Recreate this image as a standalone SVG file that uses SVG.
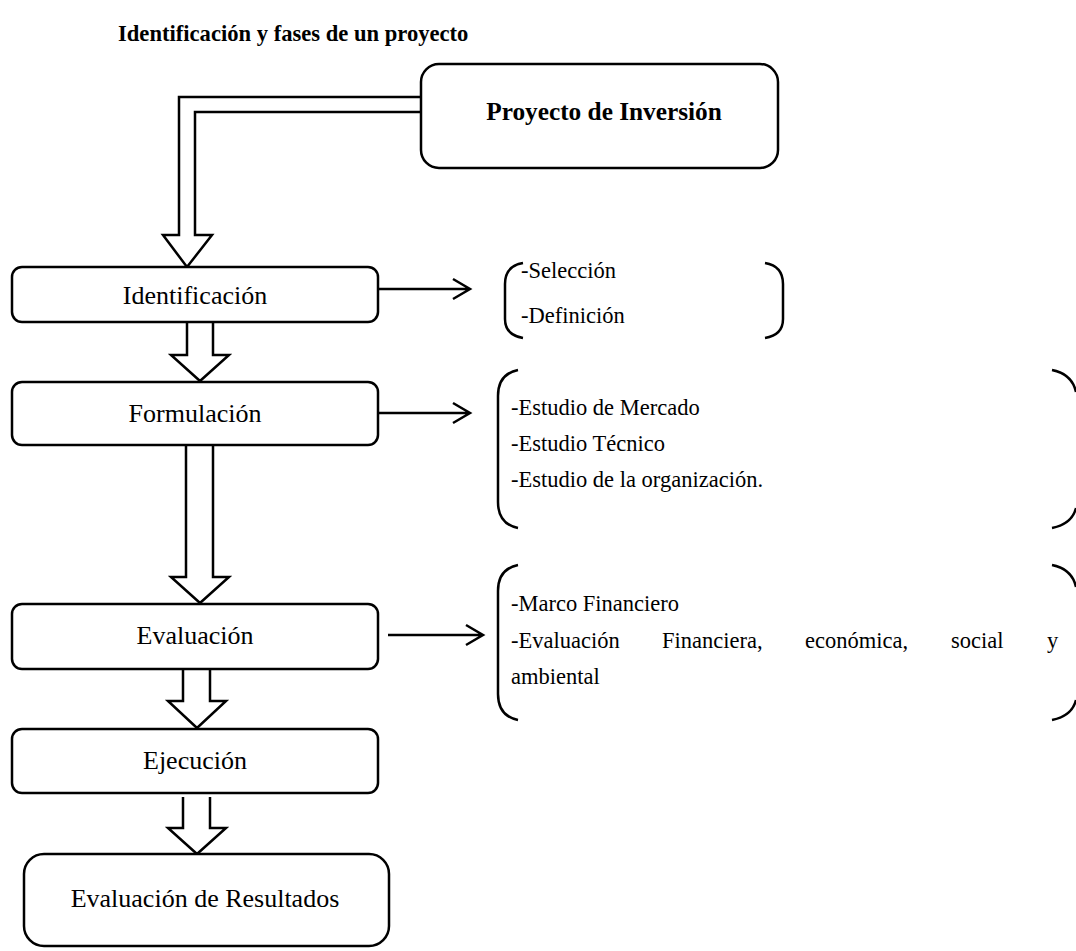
<svg xmlns="http://www.w3.org/2000/svg" width="1076" height="951" viewBox="0 0 1076 951">
<style>
.box{fill:#fff;stroke:#000;stroke-width:2.5}
.blk{fill:#fff;stroke:#000;stroke-width:2.5;stroke-linejoin:miter}
.ln{fill:none;stroke:#000;stroke-width:2.5}
.br{fill:none;stroke:#000;stroke-width:2.5}
.t{font-family:"Liberation Serif","Times New Roman",serif;fill:#000}
.lb{font-size:26px;text-anchor:middle}
.rt{font-size:22.5px}
.b{font-weight:bold}
</style>
<rect width="1076" height="951" fill="#fff"/>
<text class="t b" x="118" y="41" font-size="22.6">Identificación y fases de un proyecto</text>

<g id="connectors">
  <path class="ln" d="M421,97 H179 V235 H163 L187,267 L212,235 H195 V112 H421"/>
  <path class="blk" d="M187,322 V355 H171 L200,381 L229,355 H213 V322"/>
  <path class="blk" d="M186,446 V577 H171 L200,603 L229,577 H213 V446"/>
  <path class="blk" d="M183,670 V701 H168 L197,728 L226,701 H210 V670"/>
  <path class="blk" d="M183,797 V828 H168 L197,854 L226,828 H210 V797"/>
  <path class="ln" d="M378,289 H470 M453,279 L470,289 L453,299"/>
  <path class="ln" d="M378,413 H470 M453,403 L470,413 L453,423"/>
  <path class="ln" d="M388,635 H483 M466,625 L483,635 L466,645"/>
</g>

<g id="proyecto">
  <rect class="box" x="421" y="64" width="357" height="104" rx="18"/>
  <text class="t b" x="604" y="120" font-size="25.3" text-anchor="middle">Proyecto de Inversión</text>
</g>
<g id="identificacion">
  <rect class="box" x="12" y="267" width="366" height="55" rx="10"/>
  <text class="t lb" x="195" y="304">Identificación</text>
</g>
<g id="formulacion">
  <rect class="box" x="12" y="382" width="366" height="63" rx="10"/>
  <text class="t lb" x="195" y="422">Formulación</text>
</g>
<g id="evaluacion">
  <rect class="box" x="12" y="604" width="366" height="65" rx="10"/>
  <text class="t lb" x="195" y="644">Evaluación</text>
</g>
<g id="ejecucion">
  <rect class="box" x="12" y="729" width="366" height="64" rx="10"/>
  <text class="t lb" x="195" y="769">Ejecución</text>
</g>
<g id="resultados">
  <rect class="box" x="24" y="854" width="365" height="92" rx="20"/>
  <text class="t lb" x="205" y="907">Evaluación de Resultados</text>
</g>

<g id="seleccion">
  <path class="br" d="M523,263 Q505,266 505,284 V319 Q505,335 523,338"/>
  <path class="br" d="M765,263 Q783,266 783,284 V319 Q783,335 765,338"/>
  <text class="t rt" x="521" y="278">-Selección</text>
  <text class="t rt" x="521" y="323">-Definición</text>
</g>
<g id="estudios">
  <path class="br" d="M518,370 Q498,374 498,396 V502 Q498,524 518,528"/>
  <path class="br" d="M1052,370 Q1072,374 1076,392 M1076,508 Q1072,524 1052,528"/>
  <text class="t rt" x="511" y="415">-Estudio de Mercado</text>
  <text class="t rt" x="511" y="451">-Estudio Técnico</text>
  <text class="t rt" x="511" y="487">-Estudio de la organización.</text>
</g>
<g id="financiero">
  <path class="br" d="M518,565 Q498,569 498,591 V694 Q498,716 518,720"/>
  <path class="br" d="M1052,565 Q1072,569 1076,587 M1076,700 Q1072,716 1052,720"/>
  <text class="t rt" x="511" y="611">-Marco Financiero</text>
  <text class="t rt" x="511" y="648">-Evaluación</text>
  <text class="t rt" x="662" y="648">Financiera,</text>
  <text class="t rt" x="805" y="648">económica,</text>
  <text class="t rt" x="951" y="648">social</text>
  <text class="t rt" x="1047" y="648">y</text>
  <text class="t rt" x="511" y="684">ambiental</text>
</g>
</svg>
